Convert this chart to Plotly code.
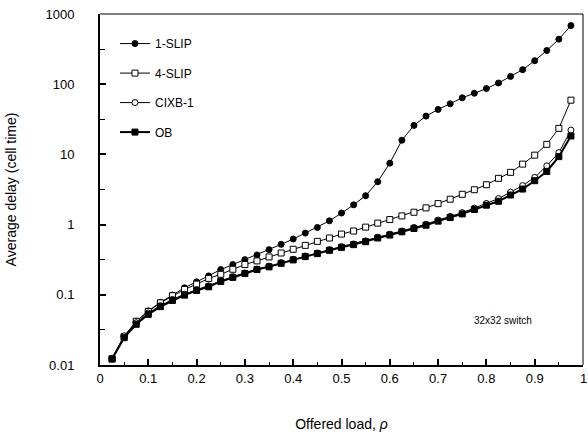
import math
import plotly.graph_objects as go

load = [0.025, 0.05, 0.075, 0.1, 0.125, 0.15, 0.175, 0.2, 0.225, 0.25,
        0.275, 0.3, 0.325, 0.35, 0.375, 0.4, 0.425, 0.45, 0.475, 0.5,
        0.525, 0.55, 0.575, 0.6, 0.625, 0.65, 0.675, 0.7, 0.725, 0.75,
        0.775, 0.8, 0.825, 0.85, 0.875, 0.9, 0.925, 0.95, 0.975]

slip1 = [0.0122, 0.0255, 0.042, 0.059, 0.078, 0.099, 0.126, 0.153, 0.186, 0.229,
         0.27, 0.317, 0.37, 0.44, 0.523, 0.623, 0.757, 0.91, 1.13, 1.46,
         1.91, 2.58, 4.08, 7.5, 15.9, 25.9, 35.1, 43.7, 52.6, 64,
         74.3, 86.7, 104, 129, 161, 216, 302, 438, 683]

slip4 = [0.0122, 0.0255, 0.042, 0.058, 0.077, 0.097, 0.119, 0.142, 0.171, 0.196,
         0.231, 0.27, 0.304, 0.346, 0.394, 0.445, 0.506, 0.577, 0.644, 0.733,
         0.81, 0.92, 1.05, 1.18, 1.33, 1.50, 1.73, 1.99, 2.30, 2.70,
         3.14, 3.70, 4.56, 5.55, 7.27, 9.75, 13.9, 23.5, 59.2]

cixb1 = [0.0125, 0.026, 0.040, 0.055, 0.070, 0.086, 0.102, 0.118, 0.134, 0.158,
         0.181, 0.205, 0.233, 0.256, 0.287, 0.32, 0.357, 0.394, 0.44, 0.485,
         0.53, 0.585, 0.66, 0.73, 0.81, 0.91, 1.01, 1.16, 1.31, 1.48,
         1.72, 2.0, 2.35, 2.9, 3.6, 4.7, 6.87, 10.6, 22.2]

ob = [0.0122, 0.0245, 0.038, 0.0527, 0.0678, 0.083, 0.099, 0.115, 0.13, 0.155,
      0.177, 0.201, 0.229, 0.25, 0.281, 0.314, 0.35, 0.386, 0.43, 0.474,
      0.518, 0.571, 0.644, 0.71, 0.79, 0.88, 0.98, 1.12, 1.26, 1.42,
      1.64, 1.89, 2.15, 2.64, 3.21, 4.22, 5.72, 9.3, 18.3]

x_ticks = [0, 0.1, 0.2, 0.3, 0.4, 0.5, 0.6, 0.7, 0.8, 0.9, 1]
x_tick_text = ["0", "0.1", "0.2", "0.3", "0.4", "0.5", "0.6", "0.7", "0.8", "0.9", "1"]
x_minor = [0.05, 0.15, 0.25, 0.35, 0.45, 0.55, 0.65, 0.75, 0.85, 0.95]
y_ticks = [0.01, 0.1, 1, 10, 100, 1000]
y_tick_text = ["0.01", "0.1", "1", "10", "100", "1000"]
y_minor = [0.0316, 0.316, 3.16, 31.6, 316]

note_text = "32x32 switch"
note_x, note_y = 0.835, 0.043

FONT = "Liberation Sans, Arial, sans-serif"

fig = go.Figure()
series = [
    ("1-SLIP", slip1, dict(symbol="circle", size=6, color="black",
                           line=dict(color="black", width=1)), 1),
    ("4-SLIP", slip4, dict(symbol="square", size=6, color="white",
                           line=dict(color="black", width=1)), 1),
    ("CIXB-1", cixb1, dict(symbol="circle", size=6, color="white",
                           line=dict(color="black", width=1)), 1),
    ("OB", ob, dict(symbol="square", size=6, color="black",
                    line=dict(color="black", width=1)), 2),
]
for i, (name, vals, mk, lw) in enumerate(series):
    fig.add_trace(go.Scatter(
        x=load, y=vals, name=name, mode="lines+markers",
        line=dict(color="black", width=lw), marker=mk,
        legendgroup=f"g{i}",
    ))

fig.add_annotation(x=note_x, y=math.log10(note_y), xref="x", yref="y", text=note_text,
                   showarrow=False, font=dict(family=FONT, size=10, color="black"))

# last x tick label drawn as an annotation at the axis end so it is not dropped at the edge
fig.add_annotation(x=x_ticks[-1], y=0, xref="x", yref="paper", text=x_tick_text[-1],
                   showarrow=False, xanchor="center", yanchor="middle", yshift=-13,
                   font=dict(family=FONT, size=13, color="black"))

# thin top and right frame
fig.add_shape(type="line", xref="x domain", yref="y domain", x0=0, x1=1, y0=1, y1=1,
              line=dict(color="black", width=1))
fig.add_shape(type="line", xref="x domain", yref="y domain", x0=1, x1=1, y0=0, y1=1,
              line=dict(color="black", width=1))

fig.update_layout(
    width=588, height=435,
    margin=dict(l=100, r=5, t=14, b=68, pad=0),
    paper_bgcolor="white", plot_bgcolor="white",
    font=dict(family=FONT, size=13, color="black"),
    showlegend=True,
    legend=dict(x=0.031, y=0.957, xanchor="left", yanchor="top",
                bgcolor="rgba(0,0,0,0)", font=dict(size=12),
                tracegroupgap=10.5, itemwidth=30),
    xaxis=dict(
        range=[0, 1], tickmode="array", tickvals=x_ticks,
        ticktext=x_tick_text[:-1] + [""],
        ticks="inside", ticklen=6, tickwidth=1.5, tickcolor="black",
        showline=True, linecolor="black", linewidth=2, showgrid=False, zeroline=False,
        minor=dict(tickmode="array", tickvals=x_minor,
                   ticks="inside", ticklen=3, tickwidth=1, tickcolor="black"),
        ticklabelstandoff=0, ticklabeloverflow="allow",
        title=dict(text="Offered load, <i>ρ</i>", font=dict(size=14), standoff=35),
    ),
    yaxis=dict(
        type="log", range=[-2, 3], tickmode="array", tickvals=y_ticks, ticktext=y_tick_text,
        ticks="inside", ticklen=6, tickwidth=1.5, tickcolor="black",
        showline=True, linecolor="black", linewidth=2, showgrid=False, zeroline=False,
        minor=dict(tickmode="array", tickvals=y_minor,
                   ticks="inside", ticklen=5, tickwidth=1, tickcolor="black"),
        ticklabelstandoff=21, ticklabeloverflow="allow",
        title=dict(text="Average delay (cell time)", font=dict(size=14), standoff=26),
    ),
)

fig.write_html("out.html", config={"displayModeBar": False},
               post_script="document.body.style.margin='0';document.body.style.overflow='hidden';")
